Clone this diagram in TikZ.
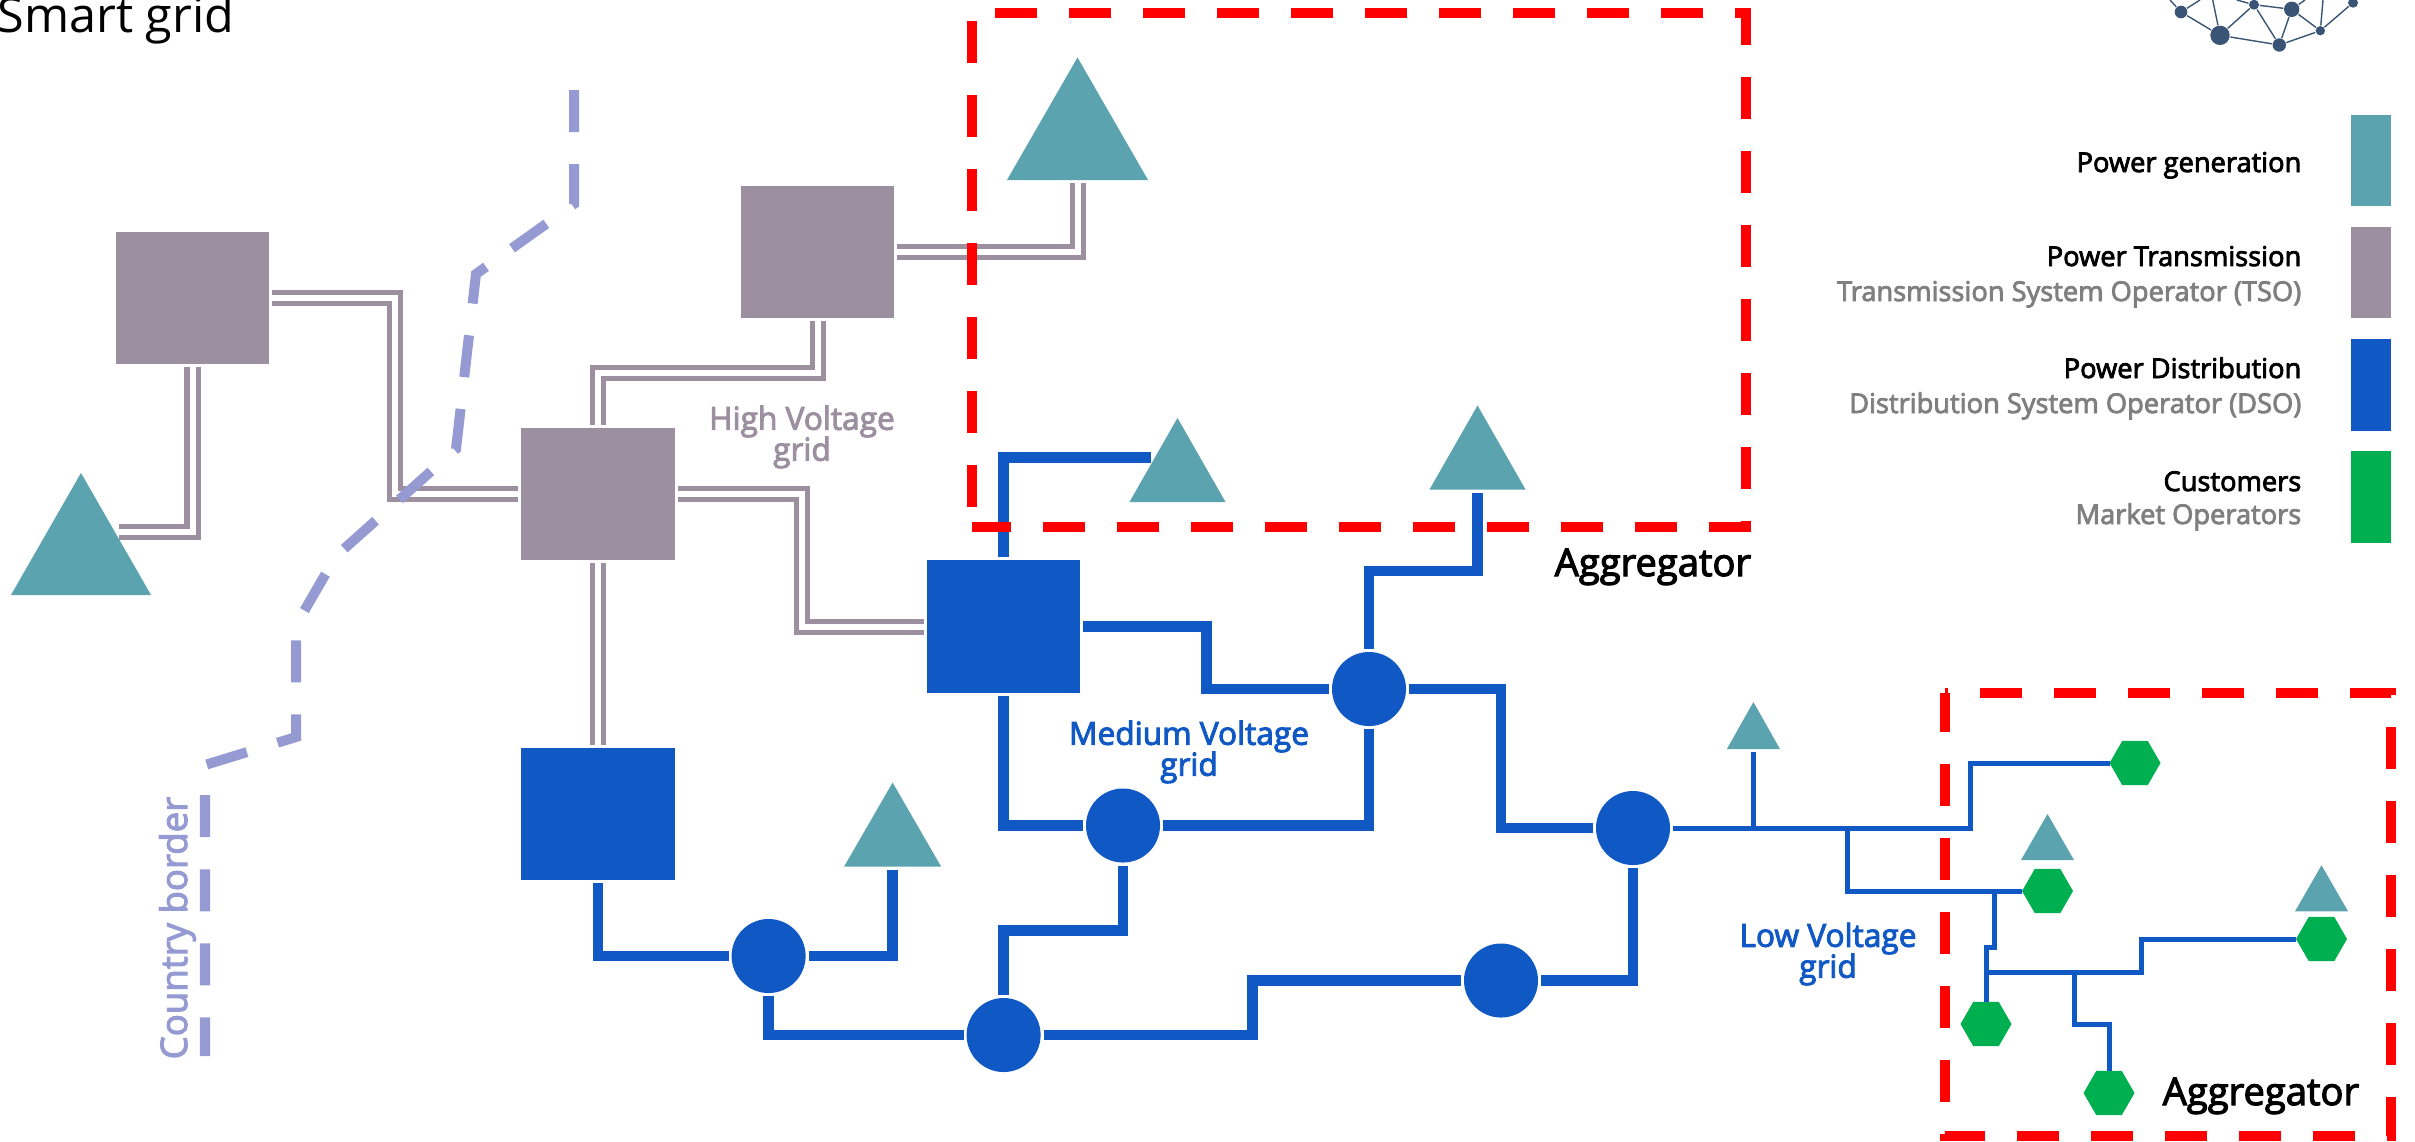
\documentclass[tikz,border=0pt]{standalone}
\usepackage{fontspec}
\setmainfont{Open Sans}
\newfontfamily\semifont[FakeBold=3]{Open Sans}
\usepackage{xcolor}
\usepackage{tikz}
\usetikzlibrary{shapes.geometric,positioning,calc}
\definecolor{gencolor}{HTML}{5BA3AF}
\definecolor{tsocolor}{HTML}{9C8FA0}
\definecolor{dsocolor}{HTML}{1058C4}
\definecolor{custcolor}{HTML}{00B050}
\definecolor{bordercolor}{HTML}{959BD2}
\definecolor{logocolor}{HTML}{3A5476}
\definecolor{subcolor}{HTML}{7F7F7F}

\begin{document}
\begin{tikzpicture}[
  x=0.01cm, y=-0.01cm,
  tso/.style={rectangle, fill=tsocolor, minimum width=15.3mm, minimum height=13.2mm,
              inner sep=0pt, outer sep=0.3mm},
  dso/.style={tso, fill=dsocolor},
  sub/.style={circle, fill=dsocolor, minimum size=7.4mm, inner sep=0pt, outer sep=0.3mm},
  gen/.style 2 args={isosceles triangle, isosceles triangle stretches, shape border rotate=90,
              fill=gencolor, minimum width=#1, minimum height=#2, inner sep=0pt, outer sep=0.3mm,
              anchor=lower side},
  cust/.style={regular polygon, regular polygon sides=6, fill=custcolor, minimum size=5.1mm,
               inner sep=0pt, outer sep=0pt},
  hv/.style={draw=tsocolor, line width=0.5mm, double=white, double distance=0.6mm},
  mv/.style={draw=dsocolor, line width=1.05mm},
  lv/.style={draw=dsocolor, line width=0.5mm},
  aggr/.style={draw=red, line width=1mm, dash pattern=on 4.2mm off 3.2mm},
  frontier/.style={draw=bordercolor, line width=1mm, dash pattern=on 4.2mm off 3.2mm},
  swatch/.style={rectangle, minimum width=3.96mm, minimum height=9.1mm, inner sep=0pt},
  legtitle/.style={anchor=base east, inner sep=0pt, font=\semifont\fontsize{7.75}{9}\selectfont},
  legsub/.style={legtitle, text=subcolor},
  gridlbl/.style={align=center, inner sep=0pt, font=\semifont\fontsize{9}{11}\selectfont},
  aggrlbl/.style={anchor=base west, inner sep=0pt, font=\semifont\fontsize{10.85}{12}\selectfont},
  logonode/.style={circle, fill=logocolor, inner sep=0pt},
  logoline/.style={draw=logocolor, line width=0.14mm}
]
\useasboundingbox (0,0) rectangle (2415,1141);

% Title
\node[anchor=base west, inner sep=0pt, font=\fontsize{13.8}{15}\selectfont] (title) at (-3,32) {Smart grid};

% Transmission and distribution stations
\node[tso] (ga) at (192.5,298) {};
\node[tso] (gb) at (817.5,251.7) {};
\node[tso] (gc) at (598,494) {};
\node[dso] (dc) at (1003.5,626.5) {};
\node[dso] (dd) at (598,814) {};

% Substations
\node[sub] (c1) at (1369,689) {};
\node[sub] (c2) at (1123,825.5) {};
\node[sub] (c3) at (1633,828) {};
\node[sub] (c4) at (768.6,956) {};
\node[sub] (c5) at (1003.6,1035) {};
\node[sub] (c6) at (1501,980.5) {};

% Generators
\node[gen={14mm}{12.2mm}] (tl) at (81,598) {};
\node[gen={14.1mm}{12.25mm}] (tt) at (1077.5,183) {};
\node[gen={9.6mm}{8.4mm}] (tm) at (1177.5,505) {};
\node[gen={9.6mm}{8.4mm}] (tr) at (1477.5,492.5) {};
\node[gen={9.7mm}{8.4mm}] (tb) at (892.6,869.6) {};
\node[gen={5.3mm}{4.7mm}] (ta) at (1753.4,752) {};
\node[gen={5.3mm}{4.6mm}] (tc) at (2047.5,863) {};
\node[gen={5.3mm}{4.6mm}] (td) at (2321.5,914.3) {};

% Customers
\node[cust] (h1) at (2135,763) {};
\node[cust] (h2) at (2047.5,891) {};
\node[cust] (h3) at (2321.5,939) {};
\node[cust] (h4) at (1986,1024) {};
\node[cust] (h5) at (2109,1093) {};

% Low voltage junctions
\coordinate (j1) at (1753.4,828);
\coordinate (j2) at (1847,828);
\coordinate (j3) at (1970.5,828);
\coordinate (j4) at (1994.4,891);
\coordinate (j5) at (1994.4,947.7);
\coordinate (j6) at (1986,972.3);
\coordinate (j7) at (2141,972.3);
\coordinate (j8) at (2074.4,972.3);
\coordinate (j9) at (2109,1024.7);

% High voltage lines
\draw[hv] (ga.east) -- ++(123.4,0) |- (gc.west);
\draw[hv] (tl.right side) -| (ga.south);
\draw[hv] (gb.south) -- ++(0,52.5) -| (gc.north);
\draw[hv] (gb.east) -| (tt.lower side);
\draw[hv] (gc.east) -- ++(124.7,0) |- (dc.west);
\draw[hv] (gc.south) -- (dd.north);

% Medium voltage lines
\draw[mv] (dc.east) -- ++(123.4,0) |- (c1.west);
\draw[mv] (c1.east) -- ++(92,0) |- (c3.west);
\draw[mv] (c1.north) -- ++(0,-78) -| (tr.lower side);
\draw[mv] (c1.south) |- (c2.east);
\draw[mv] (dc.south) |- (c2.west);
\draw[mv] (dc.north) |- (tm.left side);
\draw[mv] (dd.south) |- (c4.west);
\draw[mv] (c4.east) -| (tb.lower side);
\draw[mv] (c4.south) |- (c5.west);
\draw[mv] (c5.north) -- ++(0,-64.7) -| (c2.south);
\draw[mv] (c5.east) -- ++(208.7,0) |- (c6.west);
\draw[mv] (c6.east) -| (c3.south);

% Low voltage lines
\draw[lv] (c3.east) -- (j3) |- (h1.west);
\draw[lv] (j1) -- (ta.lower side);
\draw[lv] (j2) |- (h2.west);
\draw[lv] (j4) -- (j5) -| (h4.north);
\draw[lv] (j6) -- (j7) |- (h3.west);
\draw[lv] (j8) |- (j9) -- (h5.north);

% Country border
\coordinate (fa) at (574,90);
\coordinate (fb) at (574,204);
\coordinate (fc) at (476,274);
\coordinate (fd) at (456,449);
\coordinate (fe) at (336,556);
\coordinate (ff) at (296,625);
\coordinate (fg) at (296,737);
\coordinate (fh) at (205,765);
\coordinate (fi) at (205,1056);
\draw[frontier] (fa) -- (fb) -- (fc) -- (fd) -- (fe) -- (ff) -- (fg) -- (fh) -- (fi);
\node[rotate=90, anchor=base west, inner sep=0pt, text=bordercolor, font=\semifont\fontsize{10.4}{12}\selectfont] (borderlbl) at (187,1060) {Country border};

% Aggregator frames
\coordinate (ba) at (972,13.3);
\coordinate (bb) at (1746,526.5);
\coordinate (bc) at (972,526.5);
\draw[aggr, dash phase=5.1mm] (ba) -| (bb) -| (bc);
\draw[aggr, dash phase=5.43mm] (bc) -- (ba);
\coordinate (bd) at (1944.6,693);
\coordinate (be) at (2390.5,1135.7);
\draw[aggr, dash phase=3.86mm] (bd) -| (be) -| (bd) -- cycle;

% Grid labels
\node[gridlbl, text=tsocolor] (hvlbl) at (802,437) {High Voltage\\[-2.2pt]grid};
\node[gridlbl, text=dsocolor] (mvlbl) at (1189,752) {Medium Voltage\\[-2.2pt]grid};
\node[gridlbl, text=dsocolor] (lvlbl) at (1828,954) {Low Voltage\\[-2.2pt]grid};
\node[aggrlbl] (agga) at (1554,576) {Aggregator};
\node[aggrlbl] (aggb) at (2162,1105) {Aggregator};

% Legend
\node[swatch, fill=gencolor] (swa) at (2371,160.5) {};
\node[swatch, fill=tsocolor] (swb) at (2371,272.5) {};
\node[swatch, fill=dsocolor] (swc) at (2371,385) {};
\node[swatch, fill=custcolor] (swd) at (2371,497) {};
\node[legtitle] (lta) at (2302,172) {Power generation};
\node[legtitle] (ltb) at (2302,266) {Power Transmission};
\node[legsub] (lsb) at (2302,301) {Transmission System Operator (TSO)};
\node[legtitle] (ltc) at (2302,378) {Power Distribution};
\node[legsub] (lsc) at (2302,413) {Distribution System Operator (DSO)};
\node[legtitle] (ltd) at (2302,491) {Customers};
\node[legsub] (lsd) at (2302,524) {Market Operators};

% Logo
\node[logonode, minimum size=1.26mm] (n1) at (2181,12) {};
\node[logonode, minimum size=1.94mm] (n2) at (2220,35.3) {};
\node[logonode, minimum size=1mm] (n3) at (2254,4.7) {};
\node[logonode, minimum size=1.54mm] (n4) at (2291.7,9.3) {};
\node[logonode, minimum size=1.34mm] (n5) at (2279.3,45) {};
\node[logonode, minimum size=0.94mm] (n6) at (2320.3,30.7) {};
\node[logonode, minimum size=1mm] (n7) at (2353,2.7) {};
\coordinate (e1) at (2170,0);
\coordinate (e2) at (2200,0);
\coordinate (e3) at (2212.7,0);
\coordinate (e4) at (2236.7,0);
\coordinate (e5) at (2305,0);
\coordinate (e6) at (2323,0);
\draw[logoline] (n1) -- (n2) -- (n3) -- (n4) -- (n6) -- (n5) -- (n2);
\draw[logoline] (n3) -- (n5) -- (n4);
\draw[logoline] (n6) -- (n7);
\draw[logoline] (n1) -- (e1);
\draw[logoline] (n1) -- (e2);
\draw[logoline] (n2) -- (e3);
\draw[logoline] (n3) -- (e4);
\draw[logoline] (n4) -- (e5);
\draw[logoline] (n6) -- (e6);
\end{tikzpicture}
\end{document}
